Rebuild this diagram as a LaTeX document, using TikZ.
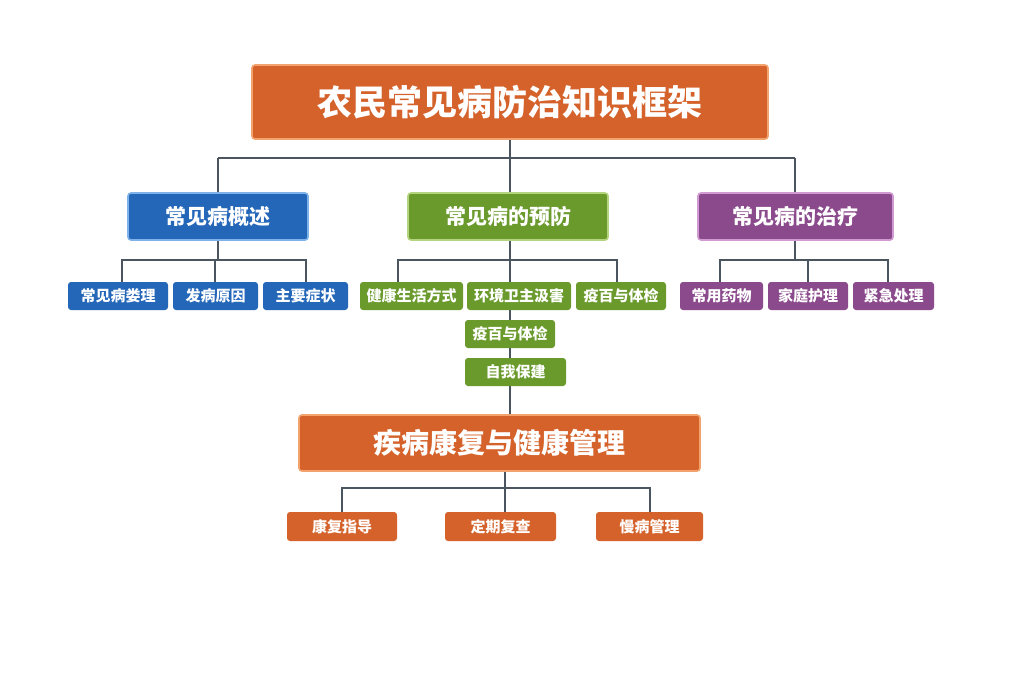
\documentclass[tikz,border=0pt]{standalone}
\usepackage{fontspec}
\setmainfont{Noto Sans CJK SC}
\begin{document}
\begin{tikzpicture}[x=1pt,y=-1pt,
  ln/.style={draw=lc,line width=2.8pt},
  bx/.style={rounded corners=3pt,text=white,font=\bfseries,inner sep=0pt,line width=1.6pt},
  ttl/.style={bx,fill=og,draw=ogl,font=\bfseries\fontsize{35}{38}\selectfont},
  sub/.style={bx,fill=og,draw=ogl,font=\bfseries\fontsize{28}{30}\selectfont},
  lone/.style={bx,font=\bfseries\fontsize{21}{24}\selectfont},
  leaf/.style={bx,font=\bfseries\fontsize{15}{17}\selectfont,line width=0pt}]
\definecolor{lc}{HTML}{4A5560}
\definecolor{og}{HTML}{D4622A}
\definecolor{ogl}{HTML}{F2A36E}
\definecolor{bl}{HTML}{2467B9}
\definecolor{bll}{HTML}{7FB2E8}
\definecolor{gr}{HTML}{6A9A2C}
\definecolor{grl}{HTML}{B5D47F}
\definecolor{pu}{HTML}{8A4A8C}
\definecolor{pul}{HTML}{D29AD3}
\useasboundingbox (0,0) rectangle (1024,683);
\fill[white] (0,0) rectangle (1024,683);
% connectors first
\coordinate (j0) at (510,158);
\coordinate (jl) at (218,158);
\coordinate (jr) at (795,158);
\draw[ln] (510,139) -- (j0);
\draw[ln] (jl) -- (jr);
\draw[ln] (jl) -- (218,193);
\draw[ln] (510,158) -- (510,193);
\draw[ln] (jr) -- (795,193);
% blue bracket
\draw[ln] (218,240) -- (218,260);
\draw[ln] (122,282) -- (122,260) -- (306,260) -- (306,282);
\draw[ln] (215,260) -- (215,282);
% green
\draw[ln] (510,240) -- (510,415);
\draw[ln] (398,282) -- (398,260) -- (617,260) -- (617,282);
% purple
\draw[ln] (795,240) -- (795,260);
\draw[ln] (720,282) -- (720,260) -- (888,260) -- (888,282);
\draw[ln] (808,260) -- (808,282);
% bottom
\draw[ln] (505,471) -- (505,488);
\draw[ln] (342,512) -- (342,488) -- (650,488) -- (650,512);
\draw[ln] (505,488) -- (505,512);
% nodes
\node[ttl,minimum width=516pt,minimum height=74pt] (t) at (510,102) {农民常见病防治知识框架};
\node[lone,fill=bl,draw=bll,minimum width=180pt,minimum height=47pt] (a) at (218,216.5) {常见病概述};
\node[lone,fill=gr,draw=grl,minimum width=200pt,minimum height=47pt] (b) at (508,216.5) {常见病的预防};
\node[lone,fill=pu,draw=pul,minimum width=195pt,minimum height=47pt] (c) at (795.5,216.5) {常见病的治疗};
\node[leaf,fill=bl,minimum width=100pt,minimum height=28pt] (a1) at (118,296) {常见病娄理};
\node[leaf,fill=bl,minimum width=85pt,minimum height=28pt] (a2) at (215.5,296) {发病原因};
\node[leaf,fill=bl,minimum width=85pt,minimum height=28pt] (a3) at (305.5,296) {主要症状};
\node[leaf,fill=gr,minimum width=103pt,minimum height=28pt] (b1) at (411.5,296) {健康生活方式};
\node[leaf,fill=gr,minimum width=104pt,minimum height=28pt] (b2) at (519,296) {环境卫主汲害};
\node[leaf,fill=gr,minimum width=90pt,minimum height=28pt] (b3) at (621,296) {疫百与体检};
\node[leaf,fill=gr,minimum width=90pt,minimum height=28pt] (b4) at (510,334) {疫百与体检};
\node[leaf,fill=gr,minimum width=101pt,minimum height=28pt] (b5) at (515.5,372) {自我保建};
\node[leaf,fill=pu,minimum width=83pt,minimum height=28pt] (c1) at (721.5,296) {常用药物};
\node[leaf,fill=pu,minimum width=80pt,minimum height=28pt] (c2) at (808,296) {家庭护理};
\node[leaf,fill=pu,minimum width=81pt,minimum height=28pt] (c3) at (893.5,296) {紧急处理};
\node[sub,minimum width=401pt,minimum height=56pt] (d) at (499.5,443) {疾病康复与健康管理};
\node[leaf,fill=og,minimum width=110pt,minimum height=29pt] (d1) at (342,526.5) {康复指导};
\node[leaf,fill=og,minimum width=111pt,minimum height=29pt] (d2) at (500.5,526.5) {定期复查};
\node[leaf,fill=og,minimum width=107pt,minimum height=29pt] (d3) at (649.5,526.5) {慢病管理};
\end{tikzpicture}
\end{document}
